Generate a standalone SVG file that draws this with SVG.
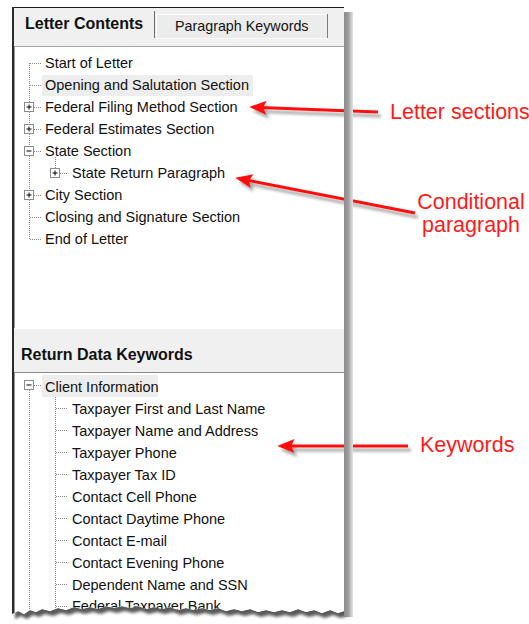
<svg xmlns="http://www.w3.org/2000/svg" width="529" height="624" viewBox="0 0 529 624">
<defs>
<style>
.t{font-family:"Liberation Sans",Arial,sans-serif;font-size:14.5px;fill:#111}
.b{font-family:"Liberation Sans",Arial,sans-serif;font-size:16px;font-weight:bold;fill:#111}
.lbl{font-family:"Liberation Sans",Arial,sans-serif;font-size:21.5px;fill:#ff1a1a}
.dot{stroke:#8a8a8a;stroke-width:1;stroke-dasharray:1,1;fill:none}
.box{fill:#fff;stroke:#8c8c8c;stroke-width:1}
.sign{stroke:#000;stroke-width:1;fill:none}
.arr{stroke:#ff1010;stroke-width:3;fill:none;marker-end:url(#ah)}
.hl{fill:#ededed}
</style>
<marker id="ah" markerUnits="userSpaceOnUse" markerWidth="20" markerHeight="14" refX="6" refY="6.5" orient="auto" viewBox="0 0 18 13">
<path d="M0,0 L16,6.5 L0,13 L3,6.5 z" fill="#ff1010"/>
</marker>
<filter id="sh" x="-20%" y="-50%" width="140%" height="200%">
<feGaussianBlur in="SourceAlpha" stdDeviation="1.6"/>
<feOffset dx="3" dy="4" result="o"/>
<feComponentTransfer><feFuncA type="linear" slope="0.35"/></feComponentTransfer>
<feMerge><feMergeNode/><feMergeNode in="SourceGraphic"/></feMerge>
</filter>
<filter id="blur" x="-10%" y="-50%" width="120%" height="200%">
<feGaussianBlur stdDeviation="1.8"/>
</filter>
<linearGradient id="band" x1="0" y1="0" x2="1" y2="0">
<stop offset="0" stop-color="#8a8a8a"/>
<stop offset="0.45" stop-color="#9a9a9a"/>
<stop offset="1" stop-color="#e4e4e4"/>
</linearGradient>
<path id="edge" d="M344,611 L338,613 L330,610 L322,613 L314,610 L306,612 L298,609 L290,612 L282,610 L274,612 L266,610 L258,612 L250,609 L242,611 L234,609 L226,611 L218,608 L210,610 L202,608 L194,610 L186,608 L178,610 L170,607 L162,609 L154,607 L146,609 L138,606 L130,608 L122,606 L114,608 L106,606 L98,609 L90,607 L82,609 L74,607 L66,610 L58,608 L50,611 L42,609 L36,612 L30,610 L24,614 L18,611 L12,614"/>
<clipPath id="panelClip">
<path d="M12,7 L344,7 L344,611 L338,613 L330,610 L322,613 L314,610 L306,612 L298,609 L290,612 L282,610 L274,612 L266,610 L258,612 L250,609 L242,611 L234,609 L226,611 L218,608 L210,610 L202,608 L194,610 L186,608 L178,610 L170,607 L162,609 L154,607 L146,609 L138,606 L130,608 L122,606 L114,608 L106,606 L98,609 L90,607 L82,609 L74,607 L66,610 L58,608 L50,611 L42,609 L36,612 L30,610 L24,614 L18,611 L12,614 Z"/>
</clipPath>
</defs>

<rect width="529" height="624" fill="#fff"/>

<g id="panel-shadow">
<path transform="translate(3,5)" filter="url(#blur)" fill="#5a5a5a" d="M12,600 L344,600 L344,611 L338,613 L330,610 L322,613 L314,610 L306,612 L298,609 L290,612 L282,610 L274,612 L266,610 L258,612 L250,609 L242,611 L234,609 L226,611 L218,608 L210,610 L202,608 L194,610 L186,608 L178,610 L170,607 L162,609 L154,607 L146,609 L138,606 L130,608 L122,606 L114,608 L106,606 L98,609 L90,607 L82,609 L74,607 L66,610 L58,608 L50,611 L42,609 L36,612 L30,610 L24,614 L18,611 L12,614 Z"/>
</g>

<g id="panel" clip-path="url(#panelClip)">
<rect x="12" y="7" width="332" height="610" fill="#f0f0f0"/>
<rect x="155" y="14" width="173" height="24" fill="#ececec"/>
<line x1="155.5" y1="14.5" x2="327.5" y2="14.5" stroke="#fff"/>
<line x1="327.5" y1="14" x2="327.5" y2="38" stroke="#7a7a7a"/>
<line x1="154.5" y1="11" x2="154.5" y2="38" stroke="#6a6a6a"/>
<line x1="156.5" y1="15" x2="156.5" y2="38" stroke="#fff"/>
<line x1="155" y1="38.5" x2="328" y2="38.5" stroke="#fafafa"/>
<line x1="12" y1="7.5" x2="344" y2="7.5" stroke="#1a1a1a" stroke-width="1.2"/>
<text class="b" x="25" y="29">Letter Contents</text>
<text class="t" x="175" y="31" style="font-size:14.3px">Paragraph Keywords</text>
<rect x="14" y="47" width="330" height="281" fill="#fff"/>
<line x1="14" y1="46.5" x2="344" y2="46.5" stroke="#a8a8a8"/>
<line x1="14" y1="328.5" x2="344" y2="328.5" stroke="#fbfbfb"/>
<text class="b" x="21" y="360">Return Data Keywords</text>
<line x1="14" y1="372.5" x2="344" y2="372.5" stroke="#8a8a8a"/>
<rect x="14" y="373" width="330" height="250" fill="#fff"/>
<line x1="13" y1="7" x2="13" y2="620" stroke="#2a2a2a" stroke-width="2"/>
<line x1="14.5" y1="47" x2="14.5" y2="328" stroke="#9a9a9a"/>
<line x1="14.5" y1="373" x2="14.5" y2="620" stroke="#9a9a9a"/>
</g>

<g id="upper-tree">
<rect class="hl" x="42" y="75" width="211" height="21"/>
<path class="dot" d="M29.5,63 V102 M29.5,112 V124 M29.5,134 V146 M29.5,156 V190 M29.5,200 V239"/>
<path class="dot" d="M30,63.5 H42 M30,85.5 H42 M34,107.5 H42 M34,129.5 H42 M34,151.5 H42 M34,195.5 H42 M30,217.5 H42 M30,239.5 H42 M55.5,157 V168 M60,173.5 H68"/>
<g id="box-federal-filing"><rect class="box" x="24.5" y="102.5" width="9" height="9"/><path class="sign" d="M26.5,107 H31.5 M29,104.5 V109.5"/></g>
<g id="box-federal-estimates"><rect class="box" x="24.5" y="124.5" width="9" height="9"/><path class="sign" d="M26.5,129 H31.5 M29,126.5 V131.5"/></g>
<g id="box-state"><rect class="box" x="24.5" y="146.5" width="9" height="9"/><path class="sign" d="M26.5,151 H31.5"/></g>
<g id="box-state-return"><rect class="box" x="50.5" y="168.5" width="9" height="9"/><path class="sign" d="M52.5,173 H57.5 M55,170.5 V175.5"/></g>
<g id="box-city"><rect class="box" x="24.5" y="190.5" width="9" height="9"/><path class="sign" d="M26.5,195 H31.5 M29,192.5 V197.5"/></g>
<text class="t" x="45" y="68">Start of Letter</text>
<text class="t" x="45" y="90">Opening and Salutation Section</text>
<text class="t" x="45" y="112">Federal Filing Method Section</text>
<text class="t" x="45" y="134">Federal Estimates Section</text>
<text class="t" x="45" y="156">State Section</text>
<text class="t" x="72" y="178">State Return Paragraph</text>
<text class="t" x="45" y="200">City Section</text>
<text class="t" x="45" y="222">Closing and Signature Section</text>
<text class="t" x="45" y="244">End of Letter</text>
</g>

<g id="lower-tree" clip-path="url(#panelClip)">
<rect class="hl" x="42" y="375" width="116" height="22"/>
<path class="dot" d="M29.5,390 V620 M34,385.5 H42 M55.5,397 V620"/>
<path class="dot" d="M56,408.5 H68 M56,430.5 H68 M56,452.5 H68 M56,474.5 H68 M56,496.5 H68 M56,518.5 H68 M56,540.5 H68 M56,562.5 H68 M56,584.5 H68 M56,606.5 H68"/>
<g id="box-client"><rect class="box" x="24.5" y="380.5" width="9" height="9"/><path class="sign" d="M26.5,385 H31.5"/></g>
<text class="t" x="45" y="392">Client Information</text>
<text class="t" x="72" y="414">Taxpayer First and Last Name</text>
<text class="t" x="72" y="436">Taxpayer Name and Address</text>
<text class="t" x="72" y="458">Taxpayer Phone</text>
<text class="t" x="72" y="480">Taxpayer Tax ID</text>
<text class="t" x="72" y="502">Contact Cell Phone</text>
<text class="t" x="72" y="524">Contact Daytime Phone</text>
<text class="t" x="72" y="546">Contact E-mail</text>
<text class="t" x="72" y="568">Contact Evening Phone</text>
<text class="t" x="72" y="590">Dependent Name and SSN</text>
<text class="t" x="72" y="611">Federal Taxpayer Bank</text>
</g>

<g id="connectors" filter="url(#sh)">
<line class="arr" x1="378" y1="112" x2="260" y2="107.4"/>
<line class="arr" x1="415" y1="213" x2="245.8" y2="179.9"/>
<line class="arr" x1="408" y1="446" x2="288" y2="446"/>
</g>

<g id="right-shadow">
<rect x="344" y="12" width="9" height="605" fill="url(#band)"/>
</g>

<g id="labels">
<text class="lbl" x="390" y="119">Letter sections</text>
<text class="lbl" x="471" y="209" text-anchor="middle">Conditional</text>
<text class="lbl" x="471" y="232" text-anchor="middle">paragraph</text>
<text class="lbl" x="420" y="452">Keywords</text>
</g>
</svg>
